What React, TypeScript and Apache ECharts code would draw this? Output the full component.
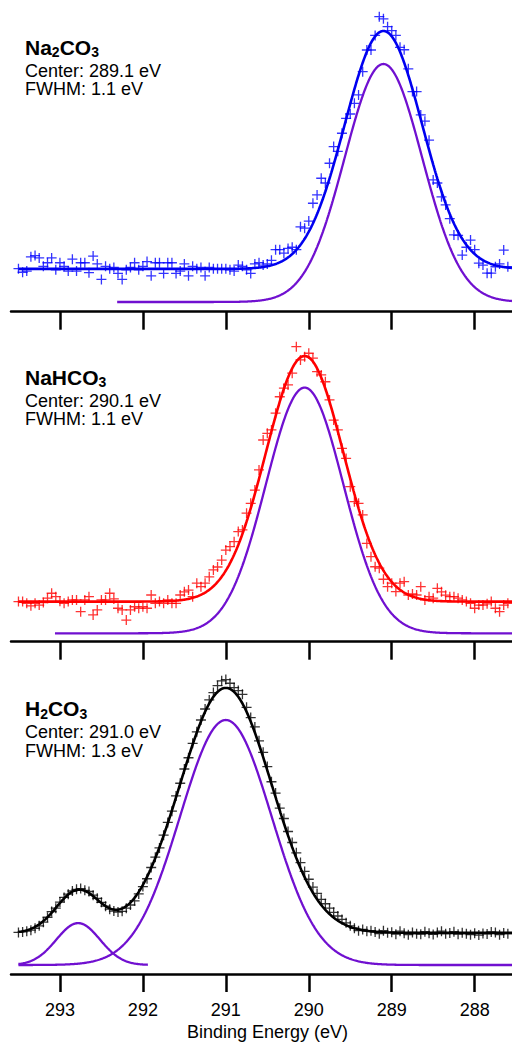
import React, { useEffect, useRef } from "react";
import * as echarts from "echarts";

// Energy grid of the measured points (eV), high to low
const E_START = 293.5;
const E_STEP = 0.05;
const N_POINTS = 119;

// Measured intensities (normalised so the main fitted component peaks at 1)
const na2co3Counts = [
  0.14, 0.125, 0.13, 0.19, 0.195, 0.185, 0.15, 0.165, 0.185, 0.135,
  0.165, 0.15, 0.13, 0.18, 0.13, 0.165, 0.165, 0.123, 0.193, 0.16,
  0.095, 0.15, 0.14, 0.145, 0.12, 0.095, 0.135, 0.145, 0.165, 0.135,
  0.15, 0.17, 0.11, 0.165, 0.165, 0.12, 0.165, 0.165, 0.12, 0.13,
  0.16, 0.11, 0.15, 0.14, 0.145, 0.11, 0.145, 0.14, 0.14, 0.14,
  0.14, 0.135, 0.13, 0.155, 0.15, 0.135, 0.12, 0.16, 0.165, 0.155,
  0.16, 0.175, 0.22, 0.22, 0.205, 0.225, 0.23, 0.22, 0.316, 0.31,
  0.34, 0.415, 0.45, 0.52, 0.5, 0.583, 0.653, 0.633, 0.709, 0.772,
  0.79, 0.835, 0.87, 0.968, 1.059, 1.059, 1.12, 1.199, 1.19, 1.157,
  1.14, 1.12, 1.07, 1.06, 0.98, 0.884, 0.884, 0.786, 0.76, 0.68,
  0.513, 0.5, 0.442, 0.408, 0.35, 0.282, 0.28, 0.197, 0.23, 0.26,
  0.22, 0.163, 0.155, 0.121, 0.121, 0.148, 0.16, 0.218, 0.148,
];

const nahco3Counts = [
  0.129, 0.129, 0.122, 0.112, 0.122, 0.115, 0.125, 0.143, 0.163, 0.149,
  0.13, 0.122, 0.129, 0.136, 0.136, 0.088, 0.136, 0.149, 0.075, 0.095,
  0.136, 0.136, 0.163, 0.14, 0.102, 0.095, 0.054, 0.095, 0.108, 0.102,
  0.108, 0.102, 0.156, 0.122, 0.129, 0.122, 0.136, 0.122, 0.122, 0.156,
  0.169, 0.176, 0.149, 0.204, 0.19, 0.204, 0.23, 0.258, 0.27, 0.298,
  0.339, 0.353, 0.373, 0.414, 0.421, 0.489, 0.529, 0.583, 0.665, 0.787,
  0.814, 0.828, 0.896, 0.963, 0.998, 1.011, 1.059, 1.167, 1.113, 1.126,
  1.14, 1.12, 1.065, 1.052, 1.024, 0.95, 0.868, 0.828, 0.753, 0.712,
  0.597, 0.536, 0.529, 0.482, 0.366, 0.312, 0.271, 0.265, 0.22, 0.19,
  0.204, 0.17, 0.204, 0.21, 0.156, 0.16, 0.156, 0.19, 0.136, 0.149,
  0.143, 0.183, 0.169, 0.155, 0.149, 0.149, 0.143, 0.136, 0.129, 0.122,
  0.102, 0.115, 0.115, 0.12, 0.129, 0.102, 0.088, 0.115, 0.122,
];

const h2co3Counts = [
  0.133, 0.135, 0.138, 0.142, 0.15, 0.16, 0.175, 0.195, 0.218, 0.232,
  0.257, 0.276, 0.289, 0.302, 0.309, 0.312, 0.305, 0.3, 0.285, 0.272,
  0.256, 0.24, 0.228, 0.22, 0.216, 0.219, 0.232, 0.245, 0.262, 0.29,
  0.32, 0.352, 0.398, 0.44, 0.478, 0.53, 0.582, 0.628, 0.69, 0.742,
  0.8, 0.846, 0.905, 0.952, 1.0, 1.045, 1.082, 1.112, 1.14, 1.16,
  1.165, 1.15, 1.132, 1.12, 1.105, 1.052, 1.01, 0.972, 0.915, 0.868,
  0.81, 0.748, 0.702, 0.64, 0.598, 0.545, 0.5, 0.458, 0.418, 0.382,
  0.35, 0.318, 0.292, 0.268, 0.25, 0.232, 0.215, 0.2, 0.186, 0.172,
  0.16, 0.15, 0.14, 0.145, 0.138, 0.14, 0.135, 0.128, 0.14, 0.132,
  0.134, 0.126, 0.138, 0.13, 0.124, 0.133, 0.128, 0.126, 0.136, 0.13,
  0.125, 0.133, 0.138, 0.128, 0.131, 0.136, 0.126, 0.132, 0.128, 0.124,
  0.13, 0.122, 0.129, 0.127, 0.135, 0.133, 0.124, 0.131, 0.128,
];

// Fit components: [center eV, FWHM eV, amplitude, drawn from eV, drawn to eV]
const na2co3Components = [[289.1, 1.1, 1.0, 292.31, 287.55]];
const nahco3Components = [[290.05, 1.1, 1.0, 293.06, 287.55]];
const h2co3Components = [
  [291.0, 1.3, 1.0, 293.5, 287.55],
  [292.78, 0.62, 0.171, 293.5, 291.94],
];
const fitBackgrounds = [0.139, 0.129, 0.131];

// Labels
const titleRich = [
  "{b|Na}{s|2}{b|CO}{s|3}",
  "{b|NaHCO}{s|3}",
  "{b|H}{s|2}{b|CO}{s|3}",
];
const centerLabels = ["289.1", "290.1", "291.0"];
const fwhmLabels = ["1.1", "1.1", "1.3"];
const tickValues = [288, 289, 290, 291, 292, 293];
const xTitle = "Binding Energy (eV)";

// Axis ranges
const X_MIN = 287.55;
const X_MAX = 293.59;
const yRanges = [
  [-0.0408, 1.227],
  [-0.0342, 1.194],
  [-0.0367, 1.196],
];

// Layout
const gridTops = [10, 340, 672];
const gridHeights = [301.7, 301.7, 302];
const textBaselines = [54.3, 384.3, 716];
const subBaselines = [
  [77, 95],
  [407, 425],
  [738.3, 757],
];
const dataColors = ["#0000ff", "#ff0000", "#000000"];
const fitColors = ["#0000f0", "#ff0000", "#000000"];
const compColor = "#7010d0";
const FONT = "'Liberation Sans', Arial, Helvetica, sans-serif";

function gauss(e: number, c: number[]) {
  const s = c[1] / 2.35482;
  return c[2] * Math.exp(-((e - c[0]) ** 2) / (2 * s * s));
}

function curve(from: number, to: number, fn: (e: number) => number) {
  const out: number[][] = [];
  const n = Math.round((from - to) / 0.01);
  for (let k = 0; k <= n; k++) {
    const e = from - ((from - to) * k) / n;
    out.push([e, fn(e)]);
  }
  return out;
}

export default function App() {
  const ref = useRef<HTMLDivElement>(null);

  useEffect(() => {
    if (!ref.current) return;
    const chart = echarts.init(ref.current, undefined, { renderer: "svg" });
    const energies = Array.from({ length: N_POINTS }, (_, i) =>
      +(E_START - i * E_STEP).toFixed(2)
    );
    const countsList = [na2co3Counts, nahco3Counts, h2co3Counts];
    const compsList = [na2co3Components, nahco3Components, h2co3Components];

    const grids = gridTops.map((t, i) => ({
      left: 11,
      right: 0,
      top: t,
      height: gridHeights[i],
      containLabel: false,
    }));

    const xAxes = gridTops.map((_, i) => ({
      type: "value",
      gridIndex: i,
      min: X_MIN,
      max: X_MAX,
      inverse: true,
      splitLine: { show: false },
      axisLine: { show: true, onZero: false, lineStyle: { color: "#000", width: 2.5 } },
      axisTick: {
        show: true,
        inside: false,
        length: 18,
        customValues: tickValues,
        lineStyle: { color: "#000", width: 2.5 },
      },
      axisLabel: {
        show: i === 2,
        customValues: tickValues,
        margin: 27,
        fontSize: 18,
        color: "#000",
        fontFamily: FONT,
      },
      name: i === 2 ? xTitle : "",
      nameLocation: "middle",
      nameGap: 49,
      nameTextStyle: { fontSize: 18, color: "#000", fontFamily: FONT, padding: [0, 0, 0, 12] },
    }));

    const yAxes = yRanges.map((r, i) => ({
      type: "value",
      gridIndex: i,
      min: r[0],
      max: r[1],
      show: false,
      splitLine: { show: false },
    }));

    const series: any[] = [];
    countsList.forEach((counts, i) => {
      series.push({
        type: "scatter",
        xAxisIndex: i,
        yAxisIndex: i,
        data: energies.map((e, k) => [e, counts[k]]),
        symbol: "path://M5 0L5 10M0 5L10 5",
        symbolSize: 10,
        itemStyle: { color: "none", borderColor: dataColors[i], borderWidth: 1.3 },
        z: 2,
      });
      compsList[i].forEach((c) => {
        series.push({
          type: "line",
          xAxisIndex: i,
          yAxisIndex: i,
          showSymbol: false,
          data: curve(c[3], c[4], (e) => gauss(e, c)),
          lineStyle: { color: compColor, width: 2.3 },
          z: 3,
        });
      });
      series.push({
        type: "line",
        xAxisIndex: i,
        yAxisIndex: i,
        showSymbol: false,
        data: curve(E_START, X_MIN, (e) =>
          compsList[i].reduce((s, c) => s + gauss(e, c), fitBackgrounds[i])
        ),
        lineStyle: { color: fitColors[i], width: 2.6 },
        z: 4,
      });
    });

    const graphics: any[] = [];
    titleRich.forEach((t, i) => {
      graphics.push({
        type: "text",
        x: 25,
        y: textBaselines[i] - 17.8,
        style: {
          text: t,
          textVerticalAlign: "top",
          fill: "#000",
          rich: {
            b: { fontSize: 21, fontWeight: "bold", fontFamily: FONT, lineHeight: 21, verticalAlign: "top", fill: "#000" },
            s: { fontSize: 14, fontWeight: "bold", fontFamily: FONT, lineHeight: 14, verticalAlign: "top", padding: [8.9, 0, 0, 0], fill: "#000" },
          },
        },
      });
      graphics.push({
        type: "text",
        x: 25,
        y: subBaselines[i][0] - 6.3,
        style: {
          text: `Center: ${centerLabels[i]} eV`,
          font: `18px ${FONT}`,
          lineHeight: 17,
          fill: "#000",
          textVerticalAlign: "middle",
        },
      });
      graphics.push({
        type: "text",
        x: 25,
        y: subBaselines[i][1] - 6.3,
        style: {
          text: `FWHM: ${fwhmLabels[i]} eV`,
          font: `18px ${FONT}`,
          lineHeight: 17,
          fill: "#000",
          textVerticalAlign: "middle",
        },
      });
    });

    chart.setOption({
      animation: false,
      backgroundColor: "#fff",
      grid: grids,
      xAxis: xAxes,
      yAxis: yAxes,
      series,
      graphic: graphics,
    });
    return () => chart.dispose();
  }, []);

  return (
    <div
      ref={ref}
      style={{ position: "absolute", left: 0, top: 0, width: 512, height: 1042 }}
    />
  );
}
